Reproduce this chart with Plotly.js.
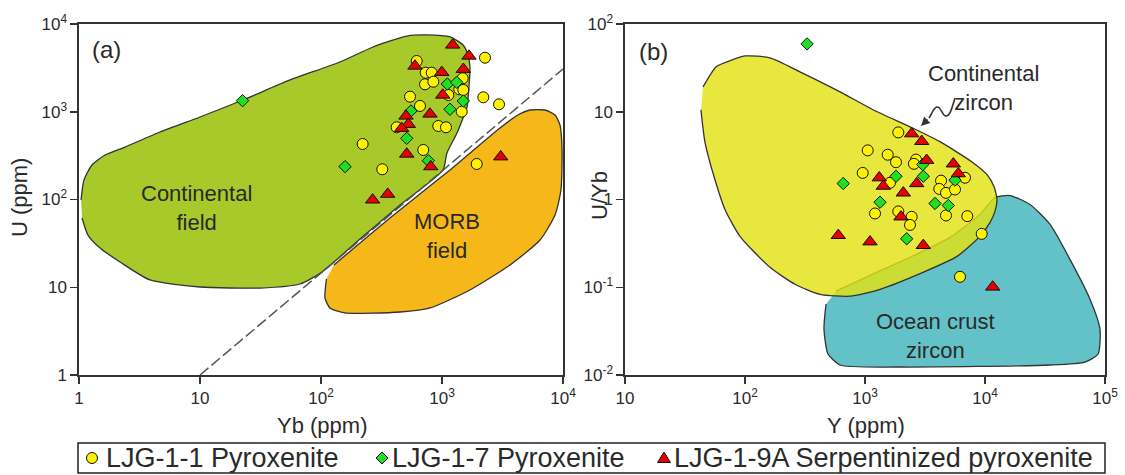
<!DOCTYPE html>
<html><head><meta charset="utf-8">
<script src="https://cdn.plot.ly/plotly-3.0.1.min.js"></script>
<style>html,body{margin:0;padding:0;background:#fff}#chart{width:1125px;height:475px}</style>
</head><body><div id="chart"></div>
<script>
// ---------- Panel (a): Yb (ppm) vs U (ppm) ----------
const a_LJG11_Yb = [618,733,822,724,848,2266,1483,1390,1500,1128,544,658,2195,2959,1455,422,932,1079,221,700,321,1936];
const a_LJG11_U  = [3786,2786,2786,2055,2200,4130,2405,1803,1770,1552,1485,1164,1461,1216,1003,665,688,665,429,367,221,254];
const a_LJG17_Yb = [1107,1323,1500,1164,554,511,771,158,22.5];
const a_LJG17_U  = [2071,2167,1326,1067,1020,498,277,237,1337];
const a_LJG19A_Yb = [1225,1671,598,995,1500,1014,796,504,527,464,511,807,3055,267,356];
const a_LJG19A_U  = [5765,4318,3321,2814,3048,1552,943,895,719,648,330,237,307,99,115];

// field boundaries (log10 values)
const contFieldLogYb = [0.017,0.041,0.107,0.215,0.380,0.669,1.000,1.355,1.744,2.157,2.430,2.711,2.876,3.066,3.174,3.215,3.231,3.223,3.207,3.174,3.124,3.041,3.008,2.653,2.322,2.008,1.826,1.496,1.000,0.587,0.339,0.174,0.074,0.025];
const contFieldLogU  = [1.994,2.222,2.393,2.507,2.598,2.769,2.940,3.134,3.362,3.567,3.738,3.863,3.875,3.852,3.761,3.647,3.510,3.282,3.054,2.929,2.758,2.530,2.336,1.937,1.550,1.174,1.037,0.991,1.003,1.083,1.288,1.447,1.595,1.789];
const morbLogYb = [2.107,2.570,3.066,3.479,3.628,3.727,3.851,3.934,3.975,3.992,3.983,3.934,3.810,3.562,3.231,2.901,2.653,2.198,2.074,2.033,2.045];
const morbLogU  = [1.254,1.789,2.336,2.815,2.963,3.020,3.020,2.963,2.849,2.564,2.108,1.823,1.538,1.254,0.969,0.764,0.718,0.707,0.764,0.877,1.094];
const discrimLineYb = [10, 10000];
const discrimLineU  = [1, 3070];

// ---------- Panel (b): Y (ppm) vs U/Yb ----------
const b_LJG11_Y  = [1895,1053,1546,1813,2661,2556,957,1616,4300,6813,4160,4732,5623,1212,1895,2449,2371,4732,7122,9387,6190];
const b_LJG11_R  = [5.82,3.63,3.24,2.66,2.85,2.55,2.01,1.55,1.64,1.77,1.32,1.19,1.30,0.693,0.731,0.635,0.513,0.658,0.646,0.406,0.1315];
const b_LJG17_Y  = [659,1813,3060,5623,1334,3831,4945,2226,329,3026];
const b_LJG17_R  = [1.52,1.84,1.84,1.66,0.931,0.901,0.855,0.357,59.3,2.50];
const b_LJG19A_Y = [2449,2969,3265,5445,5992,1315,1421,2697,2084,1995,599,1101,3060,11590];
const b_LJG19A_R = [5.62,4.60,2.80,2.55,1.97,1.77,1.42,1.52,1.19,0.635,0.390,0.330,0.300,0.1007];

const contZirLogY = [1.650,1.758,1.850,2.000,2.208,2.458,2.792,3.067,3.392,3.625,3.900,4.017,4.075,4.100,4.083,4.042,3.958,3.767,3.483,3.125,2.875,2.625,2.417,2.208,1.958,1.833,1.767,1.667,1.633];
const contZirLogR = [1.284,1.511,1.568,1.636,1.614,1.455,1.227,1.023,0.818,0.659,0.420,0.284,0.148,0.000,-0.136,-0.261,-0.420,-0.648,-0.830,-1.023,-1.102,-1.080,-0.966,-0.773,-0.420,-0.114,0.148,0.648,1.023];
const oceanLogY = [2.758,3.042,3.375,3.708,3.958,4.083,4.208,4.375,4.542,4.708,4.875,4.958,4.942,4.833,4.542,3.292,2.792,2.692,2.658,2.675];
const oceanLogR = [-1.045,-0.864,-0.659,-0.432,-0.170,0.023,0.045,-0.057,-0.284,-0.682,-1.136,-1.477,-1.761,-1.852,-1.886,-1.909,-1.886,-1.761,-1.477,-1.193];

// tick labels
const aXTickVals = [1,10,100,1000,10000];
const aXTickText = ['1','10','10<sup>2</sup>','10<sup>3</sup>','10<sup>4</sup>'];
const aYTickVals = [1,10,100,1000,10000];
const aYTickText = ['1','10','10<sup>2</sup>','10<sup>3</sup>','10<sup>4</sup>'];
const bXTickVals = [10,100,1000,10000,100000];
const bXTickText = ['10','10<sup>2</sup>','10<sup>3</sup>','10<sup>4</sup>','10<sup>5</sup>'];
const bYTickVals = [0.01,0.1,1,10,100];
const bYTickText = ['10<sup>-2</sup>','10<sup>-1</sup>','1','10','10<sup>2</sup>'];

const seriesNames = ['LJG-1-1 Pyroxenite','LJG-1-7 Pyroxenite','LJG-1-9A Serpentinized pyroxenite'];

// ---------- styles ----------
const W = 1125, H = 475;
const FONT = 'Liberation Sans, Arial, sans-serif';
const INK = '#2a2a2a';
const pow10 = v => Math.pow(10, v);
const mk = {
  circle:  {symbol:'circle', size:11, color:'#fff200', line:{color:'#111', width:1}},
  diamond: {symbol:'diamond', size:9.5, color:'#1fe01f', line:{color:'#111', width:1}},
  tri:     {symbol:'triangle-up', size:12.5, color:'#e60000', line:{color:'#111', width:1}}
};
const fieldLine = {color:'#333', width:1.3, shape:'spline', smoothing:0.6};

const traces = [
  {x: contFieldLogYb.map(pow10), y: contFieldLogU.map(pow10), xaxis:'x', yaxis:'y', mode:'lines', fill:'toself', fillcolor:'#a8c92a', line:fieldLine, hoverinfo:'skip', showlegend:false, name:'Continental field'},
  {x: morbLogYb.map(pow10), y: morbLogU.map(pow10), xaxis:'x', yaxis:'y', mode:'lines', fill:'toself', fillcolor:'#f6b819', line:fieldLine, hoverinfo:'skip', showlegend:false, name:'MORB field'},
  {x: discrimLineYb, y: discrimLineU, xaxis:'x', yaxis:'y', mode:'lines', line:{color:'#555', width:1.5, dash:'11px,4px'}, hoverinfo:'skip', showlegend:false},
  {x: a_LJG11_Yb, y: a_LJG11_U, xaxis:'x', yaxis:'y', mode:'markers', marker:mk.circle, name:seriesNames[0], showlegend:false},
  {x: a_LJG17_Yb, y: a_LJG17_U, xaxis:'x', yaxis:'y', mode:'markers', marker:mk.diamond, name:seriesNames[1], showlegend:false},
  {x: a_LJG19A_Yb, y: a_LJG19A_U, xaxis:'x', yaxis:'y', mode:'markers', marker:mk.tri, name:seriesNames[2], showlegend:false},

  {x: oceanLogY.map(pow10), y: oceanLogR.map(pow10), xaxis:'x2', yaxis:'y2', mode:'lines', fill:'toself', fillcolor:'#63c2c8', line:fieldLine, hoverinfo:'skip', showlegend:false, name:'Ocean crust zircon'},
  {x: contZirLogY.map(pow10), y: contZirLogR.map(pow10), xaxis:'x2', yaxis:'y2', mode:'lines', fill:'toself', fillcolor:'rgba(226,226,20,0.82)', line:fieldLine, hoverinfo:'skip', showlegend:false, name:'Continental zircon'},
  {x: b_LJG11_Y, y: b_LJG11_R, xaxis:'x2', yaxis:'y2', mode:'markers', marker:mk.circle, name:seriesNames[0], showlegend:false},
  {x: b_LJG17_Y, y: b_LJG17_R, xaxis:'x2', yaxis:'y2', mode:'markers', marker:mk.diamond, name:seriesNames[1], showlegend:false},
  {x: b_LJG19A_Y, y: b_LJG19A_R, xaxis:'x2', yaxis:'y2', mode:'markers', marker:mk.tri, name:seriesNames[2], showlegend:false}
];

const yDom = [(H-375)/H, (H-24)/H];
const axBase = {
  type:'log', showgrid:false, zeroline:false, ticks:'outside', ticklen:7, tickwidth:1.5,
  showline:true, linewidth:1.6, linecolor:'#333', mirror:true, tickcolor:'#333',
  tickmode:'array', tickfont:{family:FONT, size:17, color:INK}, fixedrange:true
};
const px = x => x / W, py = y => 1 - y / H;

const ann = (x, y, text, size, extra) => Object.assign({xref:'paper', yref:'paper', x:px(x), y:py(y), text:text, showarrow:false, font:{family:FONT, size:size, color:INK}, xanchor:'center', yanchor:'middle'}, extra || {});

const annotations = [
  ann(107, 49, '(a)', 24),
  ann(653, 52, '(b)', 24),
  ann(196, 208, 'Continental<br>field', 22),
  ann(447, 236, 'MORB<br>field', 22),
  ann(983, 88, 'Continental<br>zircon', 22),
  ann(935, 336, 'Ocean crust<br>zircon', 22),
  ann(322, 425, 'Yb (ppm)', 22),
  ann(866, 425, 'Y (ppm)', 22),
  ann(19, 198, 'U (ppm)', 22, {textangle:-90}),
  ann(599, 196, 'U/Yb', 22, {textangle:-90}),
  // arrowhead at end of the squiggle pointing to a continental zircon point
  {xref:'paper', yref:'paper', x:px(921), y:py(126), ax:8, ay:-8, text:'', showarrow:true, arrowhead:2, arrowsize:1.1, arrowwidth:1.6, arrowcolor:'#333', standoff:0},
  // legend texts
  ann(104, 458, seriesNames[0], 27, {xanchor:'left'}),
  ann(390, 458, seriesNames[1], 27, {xanchor:'left'}),
  ann(672, 458, seriesNames[2], 27, {xanchor:'left'})
];

const pxShape = (cx, cy, extra) => Object.assign({xref:'paper', yref:'paper', xsizemode:'pixel', ysizemode:'pixel', xanchor:px(cx), yanchor:py(cy), line:{color:'#111', width:1}}, extra);
const shapes = [
  {type:'rect', xref:'paper', yref:'paper', x0:px(78), x1:px(1105), y0:py(473), y1:py(443), line:{color:'#222', width:1.5}, fillcolor:'rgba(0,0,0,0)'},
  pxShape(92, 458, {type:'circle', x0:-5.5, x1:5.5, y0:-5.5, y1:5.5, fillcolor:mk.circle.color}),
  pxShape(382, 458, {type:'path', path:'M0,6 L6,0 L0,-6 L-6,0 Z', fillcolor:mk.diamond.color}),
  pxShape(664, 458, {type:'path', path:'M0,6 L6.5,-4.5 L-6.5,-4.5 Z', fillcolor:mk.tri.color}),
  // squiggly arrow stem
  pxShape(921, 126, {type:'path', path:'M34,28 C31,18 29,10 25,10 C21,10 20,20 16,19 C12,18 11,12 8,8', line:{color:'#333', width:1.6}, fillcolor:'rgba(0,0,0,0)'})
];

const layout = {
  width:W, height:H, margin:{l:0, r:0, t:0, b:0},
  paper_bgcolor:'#ffffff', plot_bgcolor:'rgba(0,0,0,0)',
  showlegend:false,
  font:{family:FONT, color:INK},
  xaxis:Object.assign({}, axBase, {domain:[px(79), px(563)], range:[0,4], tickvals:aXTickVals, ticktext:aXTickText, anchor:'y'}),
  yaxis:Object.assign({}, axBase, {domain:yDom, range:[0,4], tickvals:aYTickVals, ticktext:aYTickText, anchor:'x'}),
  xaxis2:Object.assign({}, axBase, {domain:[px(625), px(1105)], range:[1,5], tickvals:bXTickVals, ticktext:bXTickText, anchor:'y2'}),
  yaxis2:Object.assign({}, axBase, {domain:yDom, range:[-2,2], tickvals:bYTickVals, ticktext:bYTickText, anchor:'x2'}),
  annotations:annotations,
  shapes:shapes
};

Plotly.newPlot('chart', traces, layout, {displayModeBar:false, staticPlot:true});
</script>
</body></html>
